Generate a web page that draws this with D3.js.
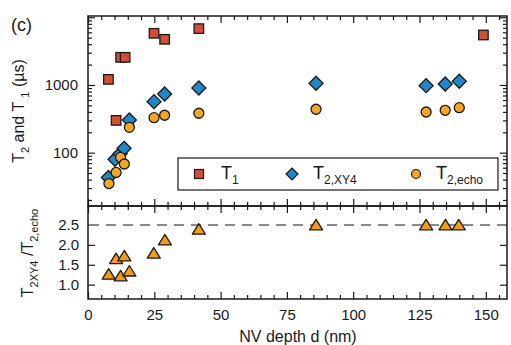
<!DOCTYPE html>
<html><head><meta charset="utf-8">
<script src="https://cdn.jsdelivr.net/npm/d3@7"></script>
<style>
body{margin:0;background:#fff}
svg{display:block}
text{font-family:"Liberation Sans",Arial,Helvetica,sans-serif;fill:#1a1a1a}
</style>
</head><body>
<svg id="c" width="511" height="345"></svg>
<script>
// ---- data ----
const t1Depth   = [7.7, 10.6, 12.3, 14.0, 24.9, 28.9, 41.8, 149.1];
const t1Value   = [1210, 300, 2560, 2560, 5800, 4730, 6800, 5480];
const xy4Depth  = [7.7, 10.2, 12.1, 13.6, 15.6, 24.9, 28.9, 41.8, 86.0, 127.5, 134.7, 140.0];
const xy4Value  = [43, 80, 96, 116, 304, 567, 736, 903, 1060, 976, 1035, 1134];
const echoDepth = [7.9, 10.6, 12.3, 13.7, 15.6, 24.9, 28.9, 41.8, 86.0, 127.5, 134.7, 140.0];
const echoValue = [35, 51, 85, 68, 237, 329, 357, 382, 438, 399, 423, 462];
const ratioDepth = [7.8, 10.6, 12.3, 13.7, 15.6, 24.8, 29.0, 41.8, 86.0, 127.5, 134.8, 139.8];
const ratioValue = [1.25, 1.64, 1.21, 1.71, 1.33, 1.78, 2.11, 2.38, 2.49, 2.49, 2.49, 2.49];
const xTickLabels = [0, 25, 50, 75, 100, 125, 150];
const topYTickLabels = [100, 1000];
const ratioTickLabels = [1.0, 1.5, 2.0, 2.5];
const ratioRef = 2.5;

// ---- layout ----
const L = 88, R = 507, T = 16, MID = 206, B = 299;
const svg = d3.select("#c");
const x = d3.scaleLinear().domain([0, 158]).range([L, R]);
const yTop = d3.scaleLog().domain([16.3, 10450]).range([MID, T]);
const yBot = d3.scaleLinear().domain([0.64, 2.975]).range([B, MID]);

const cT1 = "#cf4f37", cXY4 = "#2087c8", cEcho = "#f6a623", cTri = "#f39c1a";

// minor ticks
const xMinor = d3.range(0, 159, 5).filter(v => v % 25 !== 0);
const logMinor = [];
[10, 100, 1000].forEach(dec => { for (let k = 2; k <= 9; k++) { const v = k * dec; if (v > 16.3 && v < 10450) logMinor.push(v); } });
const logMajor = [100, 1000, 10000];

function styleAxis(g) {
  g.select(".domain").remove();
  g.selectAll("line").attr("stroke", "#1a1a1a").attr("stroke-width", 1.2);
  g.selectAll("text").style("font-size", "15px").attr("fill", "#1a1a1a");
}

// top of top panel: ticks inward (down)
svg.append("g").attr("transform", `translate(0,${T})`).call(d3.axisTop(x).tickValues(xTickLabels).tickSize(-7).tickFormat("")).call(styleAxis);
svg.append("g").attr("transform", `translate(0,${T})`).call(d3.axisTop(x).tickValues(xMinor).tickSize(-4).tickFormat("")).call(styleAxis);
// middle line: ticks both up and down
svg.append("g").attr("transform", `translate(0,${MID})`).call(d3.axisTop(x).tickValues(xTickLabels).tickSize(7).tickFormat("")).call(styleAxis);
svg.append("g").attr("transform", `translate(0,${MID})`).call(d3.axisTop(x).tickValues(xMinor).tickSize(4).tickFormat("")).call(styleAxis);
svg.append("g").attr("transform", `translate(0,${MID})`).call(d3.axisBottom(x).tickValues(xTickLabels).tickSize(7).tickFormat("")).call(styleAxis);
svg.append("g").attr("transform", `translate(0,${MID})`).call(d3.axisBottom(x).tickValues(xMinor).tickSize(4).tickFormat("")).call(styleAxis);
// bottom: ticks inward (up) with labels
svg.append("g").attr("transform", `translate(0,${B})`).call(d3.axisBottom(x).tickValues(xTickLabels).tickSize(-7).tickPadding(10).tickFormat(d3.format("d"))).call(styleAxis);
svg.append("g").attr("transform", `translate(0,${B})`).call(d3.axisBottom(x).tickValues(xMinor).tickSize(-4).tickFormat("")).call(styleAxis);

// top panel y axes (log)
svg.append("g").attr("transform", `translate(${L},0)`).call(d3.axisLeft(yTop).tickValues(logMajor.filter(v => v < 10450)).tickSize(-7).tickPadding(10)
  .tickFormat(d => topYTickLabels.includes(d) ? String(d) : "")).call(styleAxis);
svg.append("g").attr("transform", `translate(${L},0)`).call(d3.axisLeft(yTop).tickValues(logMinor).tickSize(-4).tickFormat("")).call(styleAxis);
svg.append("g").attr("transform", `translate(${R},0)`).call(d3.axisRight(yTop).tickValues(logMajor.filter(v => v < 10450)).tickSize(-7).tickFormat("")).call(styleAxis);
svg.append("g").attr("transform", `translate(${R},0)`).call(d3.axisRight(yTop).tickValues(logMinor).tickSize(-4).tickFormat("")).call(styleAxis);

// bottom panel y axes
svg.append("g").attr("transform", `translate(${L},0)`).call(d3.axisLeft(yBot).tickValues(ratioTickLabels).tickSize(-7).tickPadding(9).tickFormat(d3.format(".1f"))).call(styleAxis);
svg.append("g").attr("transform", `translate(${R},0)`).call(d3.axisRight(yBot).tickValues(ratioTickLabels).tickSize(-7).tickFormat("")).call(styleAxis);

// frames
svg.append("rect").attr("x", L).attr("y", T).attr("width", R - L).attr("height", MID - T)
  .attr("fill", "none").attr("stroke", "#1a1a1a").attr("stroke-width", 1.5);
svg.append("rect").attr("x", L).attr("y", MID).attr("width", R - L).attr("height", B - MID)
  .attr("fill", "none").attr("stroke", "#1a1a1a").attr("stroke-width", 1.5);

// dashed reference line
svg.append("line").attr("x1", L + 1).attr("x2", R - 1).attr("y1", yBot(ratioRef)).attr("y2", yBot(ratioRef))
  .attr("stroke", "#8a8a8a").attr("stroke-width", 2).attr("stroke-dasharray", "10,7");

// markers
const sq = 9.5, dm = 7, cr = 5;
svg.append("g").selectAll("rect").data(t1Depth.map((d, i) => [d, t1Value[i]])).join("rect")
  .attr("x", d => x(d[0]) - sq / 2).attr("y", d => yTop(d[1]) - sq / 2).attr("width", sq).attr("height", sq)
  .attr("fill", cT1).attr("stroke", "#1a1a1a").attr("stroke-width", 1.3);
svg.append("g").selectAll("path").data(xy4Depth.map((d, i) => [d, xy4Value[i]])).join("path")
  .attr("d", d => { const cx = x(d[0]), cy = yTop(d[1]); return `M${cx},${cy - dm}L${cx + dm},${cy}L${cx},${cy + dm}L${cx - dm},${cy}Z`; })
  .attr("fill", cXY4).attr("stroke", "#1a1a1a").attr("stroke-width", 1.3);
svg.append("g").selectAll("circle").data(echoDepth.map((d, i) => [d, echoValue[i]])).join("circle")
  .attr("cx", d => x(d[0])).attr("cy", d => yTop(d[1])).attr("r", cr)
  .attr("fill", cEcho).attr("stroke", "#1a1a1a").attr("stroke-width", 1.3);
svg.append("g").selectAll("path").data(ratioDepth.map((d, i) => [d, ratioValue[i]])).join("path")
  .attr("d", d => { const cx = x(d[0]), cy = yBot(d[1]); return `M${cx},${cy - 6}L${cx + 6.5},${cy + 4.5}L${cx - 6.5},${cy + 4.5}Z`; })
  .attr("fill", cTri).attr("stroke", "#1a1a1a").attr("stroke-width", 1.3).attr("stroke-linejoin", "round");

// legend
const lg = svg.append("g");
lg.append("rect").attr("x", 178).attr("y", 158).attr("width", 320).attr("height", 32)
  .attr("fill", "#fff").attr("stroke", "#1a1a1a").attr("stroke-width", 1.2);
lg.append("rect").attr("x", 199 - 4.5).attr("y", 174 - 4.5).attr("width", 9).attr("height", 9)
  .attr("fill", cT1).attr("stroke", "#1a1a1a").attr("stroke-width", 1.2);
lg.append("path").attr("d", `M292,${174 - 6}L298,174L292,180L286,174Z`)
  .attr("fill", cXY4).attr("stroke", "#1a1a1a").attr("stroke-width", 1.2);
lg.append("circle").attr("cx", 416).attr("cy", 174).attr("r", 4.5)
  .attr("fill", cEcho).attr("stroke", "#1a1a1a").attr("stroke-width", 1.2);
function subText(g, xx, yy, main, sub, fs, ss, dy) {
  const t = g.append("text").attr("x", xx).attr("y", yy).style("font-size", fs + "px");
  t.append("tspan").text(main);
  t.append("tspan").attr("dy", dy).style("font-size", ss + "px").text(sub);
  return t;
}
subText(lg, 221, 179, "T", "1", 18, 12, 5);
subText(lg, 313, 179, "T", "2,XY4", 18, 12, 5);
subText(lg, 436, 179, "T", "2,echo", 18, 12, 5);

// titles
svg.append("text").attr("x", 11).attr("y", 31).style("font-size", "18px").text("(c)");
svg.append("text").attr("x", 298).attr("y", 342).attr("text-anchor", "middle").style("font-size", "16px").text("NV depth d (nm)");

const yt1 = svg.append("text").attr("transform", `translate(24,111) rotate(-90)`).attr("text-anchor", "middle").style("font-size", "16px");
yt1.append("tspan").text("T");
yt1.append("tspan").attr("dy", 5).style("font-size", "11px").text("2");
yt1.append("tspan").attr("dy", -5).text(" and T ");
yt1.append("tspan").attr("dy", 5).style("font-size", "11px").text("1");
yt1.append("tspan").attr("dy", -5).text(" (µs)");

const yt2 = svg.append("text").attr("transform", `translate(33,253) rotate(-90)`).attr("text-anchor", "middle").style("font-size", "16px");
yt2.append("tspan").text("T");
yt2.append("tspan").attr("dy", 5).style("font-size", "11px").text("2XY4");
yt2.append("tspan").attr("dy", -5).text(" /T");
yt2.append("tspan").attr("dy", 5).style("font-size", "11px").text("2,echo");
</script>
</body></html>
